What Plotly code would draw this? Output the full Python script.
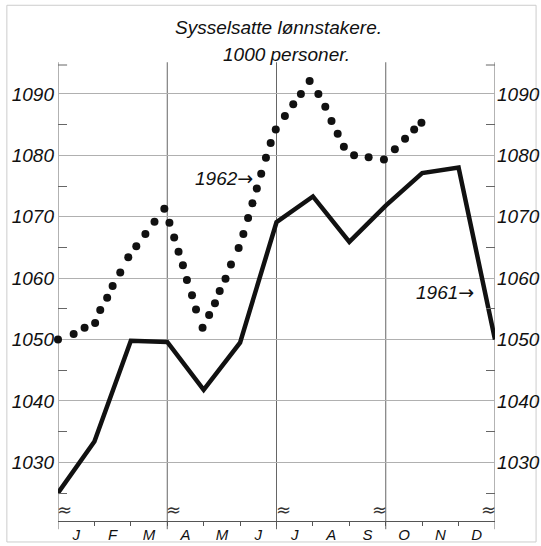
import plotly.graph_objects as go

# ---- data ----
months = ["J", "F", "M", "A", "M", "J", "J", "A", "S", "O", "N", "D"]
month_pos = [0.5, 1.5, 2.5, 3.5, 4.5, 5.5, 6.5, 7.5, 8.5, 9.5, 10.5, 11.5]

# 1961: values at month boundaries (0 = start of Jan, 12 = end of Dec)
x1961 = [0, 1, 2, 3, 4, 5, 6, 7, 8, 9, 10, 11, 12]
y1961 = [1025.0, 1033.4, 1049.8, 1049.6, 1041.8, 1049.5, 1069.1,
         1073.3, 1065.9, 1071.8, 1077.1, 1078.0, 1050.0]

# 1962: each printed dot of the dotted curve
x1962 = [0.00, 0.43, 0.73, 1.02, 1.16, 1.35, 1.50, 1.71, 1.93, 2.15, 2.40,
         2.65, 2.92, 3.06, 3.19, 3.31, 3.43, 3.54, 3.68, 3.79, 3.97, 4.15,
         4.31, 4.44, 4.60, 4.75, 4.96, 5.09, 5.22, 5.34, 5.46, 5.58, 5.71,
         5.84, 5.98, 6.23, 6.46, 6.67, 6.91, 7.15, 7.34, 7.51, 7.68, 7.85,
         8.13, 8.53, 8.95, 9.25, 9.53, 9.78, 9.98]
y1962 = [1050.0, 1050.9, 1051.9, 1052.7, 1054.8, 1056.8, 1058.7, 1060.9,
         1063.4, 1065.2, 1067.2, 1069.2, 1071.3, 1069.0, 1066.6, 1064.3,
         1062.1, 1059.7, 1057.2, 1054.9, 1051.9, 1054.0, 1055.9, 1057.9,
         1059.9, 1062.2, 1064.9, 1067.2, 1069.8, 1072.2, 1074.6, 1077.0,
         1079.6, 1082.0, 1084.2, 1086.4, 1088.3, 1090.0, 1092.1, 1090.0,
         1087.9, 1085.6, 1083.5, 1081.4, 1080.0, 1079.7, 1079.3, 1081.0,
         1082.7, 1084.2, 1085.3]

ytick_vals = [1030, 1040, 1050, 1060, 1070, 1080, 1090]
ytick_text = ["1030", "1040", "1050", "1060", "1070", "1080", "1090"]
minor_y = [1025, 1035, 1045, 1055, 1065, 1075, 1085]
quarter_lines = [3, 6, 9]

YR = [1020.44, 1094.71]
FONT = "Liberation Sans"
INK = "#111111"
GRID = "#b0b0b0"

fig = go.Figure()

fig.add_trace(go.Scatter(
    x=x1962, y=y1962, mode="markers",
    marker=dict(size=8, color=INK, line=dict(width=0)),
    cliponaxis=False, hoverinfo="skip", showlegend=False, yaxis="y"))

fig.add_trace(go.Scatter(
    x=x1961, y=y1961, mode="lines",
    line=dict(color=INK, width=4.5),
    cliponaxis=False, hoverinfo="skip", showlegend=False, yaxis="y2"))

tickfont = dict(family=FONT, size=19, color=INK, style="italic")

fig.update_layout(
    width=541, height=546,
    margin=dict(l=58, r=46, t=65, b=25, autoexpand=False),
    paper_bgcolor="white", plot_bgcolor="white",
    xaxis=dict(range=[0, 12], showgrid=False, zeroline=False,
               automargin=False,
               showline=True, linecolor="#555", linewidth=1,
               tickvals=month_pos, ticktext=months, ticks="",
               tickfont=dict(family=FONT, size=15, color=INK, style="italic"),
               minor=dict(tickvals=list(range(1, 12)), ticks="outside",
                          ticklen=4, tickcolor="#555", tickwidth=1,
                          showgrid=False)),
    yaxis=dict(range=YR, showgrid=True, gridcolor=GRID, gridwidth=1,
               zeroline=False, showline=False, automargin=False,
               tickvals=ytick_vals, ticktext=ytick_text, ticks="",
               tickfont=tickfont, ticklabelstandoff=3,
               minor=dict(tickvals=minor_y, ticks="inside", ticklen=9,
                          tickcolor="#666", tickwidth=1, showgrid=False)),
    yaxis2=dict(range=YR, overlaying="y", side="right", showgrid=False,
                zeroline=False, showline=False, automargin=False,
                tickvals=ytick_vals, ticktext=ytick_text, ticks="",
                tickfont=tickfont, ticklabelstandoff=1,
                minor=dict(tickvals=minor_y, ticks="inside", ticklen=9,
                           tickcolor="#666", tickwidth=1, showgrid=False)),
)

shapes = []
# left/right axes and quarter lines
for xv in [0] + quarter_lines + [12]:
    shapes.append(dict(type="line", xref="x", yref="paper", x0=xv, x1=xv,
                       y0=-0.018, y1=1.006, line=dict(color="#666", width=1),
                       layer="below"))
# top corner marks
shapes.append(dict(type="line", xref="x", yref="paper", x0=0, x1=0.25,
                   y0=1.0, y1=1.0, line=dict(color="#666", width=1)))
shapes.append(dict(type="line", xref="x", yref="paper", x0=11.75, x1=12,
                   y0=1.0, y1=1.0, line=dict(color="#666", width=1)))
# faint scan border
shapes.append(dict(type="rect", xref="paper", yref="paper",
                   x0=-0.117, x1=1.094, y0=-0.046, y1=1.131,
                   line=dict(color="#cccccc", width=1), layer="below"))
fig.update_layout(shapes=shapes)

ARROW = "<span style='font-family:DejaVu Sans;font-style:normal'>→</span>"
ann = []
ann.append(dict(text="Sysselsatte lønnstakere.", xref="paper", yref="paper",
                x=0.5046, y=1.0833, xanchor="center", yanchor="middle",
                showarrow=False,
                font=dict(family=FONT, size=19, color=INK, style="italic")))
ann.append(dict(text="1000 personer.", xref="paper", yref="paper",
                x=0.5229, y=1.0241, xanchor="center", yanchor="middle",
                showarrow=False,
                font=dict(family=FONT, size=19, color=INK, style="italic")))
ann.append(dict(text="1962" + ARROW, xref="x", yref="y", x=5.41, y=1076.3,
                xanchor="right", yanchor="middle", showarrow=False,
                font=dict(family=FONT, size=19, color=INK, style="italic")))
ann.append(dict(text="1961" + ARROW, xref="x", yref="y", x=11.48, y=1057.7,
                xanchor="right", yanchor="middle", showarrow=False,
                font=dict(family=FONT, size=19, color=INK, style="italic")))
# axis-break marks
for xv in [0, 3, 6]:
    ann.append(dict(text="≈", xref="x", yref="paper", x=xv, y=0.026,
                    xanchor="left", yanchor="middle", showarrow=False,
                    xshift=-3,
                    font=dict(family="DejaVu Sans", size=18, color="#333")))
for xv in [9, 12]:
    ann.append(dict(text="≈", xref="x", yref="paper", x=xv, y=0.026,
                    xanchor="right", yanchor="middle", showarrow=False,
                    xshift=3,
                    font=dict(family="DejaVu Sans", size=18, color="#333")))
fig.update_layout(annotations=ann)

fig.write_html(
    "out.html",
    config={"displayModeBar": False, "staticPlot": True},
    post_script="document.body.style.margin='0';"
                "document.body.style.overflow='hidden';")
